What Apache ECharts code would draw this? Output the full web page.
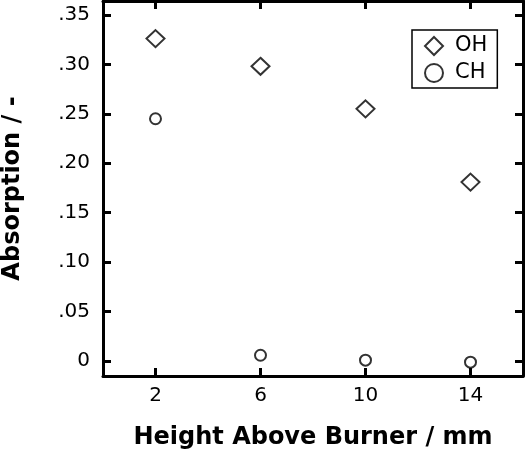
<!DOCTYPE html>
<html><head><meta charset="utf-8">
<script src="https://cdn.jsdelivr.net/npm/echarts@6/dist/echarts.min.js"></script>
<style>html,body{margin:0;padding:0;background:#fff}#c{width:526px;height:457px}</style>
</head><body><div id="c"></div>
<script>
const heights = [2, 6, 10, 14];
const ohValues = [0.326, 0.298, 0.255, 0.181];
const chValues = [0.245, 0.006, 0.001, -0.001];
const xTicks = [2, 6, 10, 14];
const yTicks = [0, 0.05, 0.10, 0.15, 0.20, 0.25, 0.30, 0.35];
const seriesNames = ['OH', 'CH'];
const xTitle = 'Height Above Burner / mm';
const yTitle = 'Absorption / -';

const FONT = 'DejaVu Sans';
const ink = '#000';
const chart = echarts.init(document.getElementById('c'), null, {renderer: 'canvas'});

function fmtY(v) {
  if (Math.abs(v) < 1e-9) return '0';
  return v.toFixed(2).replace(/^0/, '');
}
function line() { return {show: true, onZero: false, lineStyle: {color: ink, width: 3}}; }
function tick(vals) { return {show: true, inside: true, length: 8, customValues: vals, lineStyle: {color: '#000', width: 3}}; }

chart.setOption({
  animation: false,
  backgroundColor: '#fff',
  grid: {left: 103, right: 3, top: 1, bottom: 81, outerBoundsMode: 'none'},
  xAxis: [
    {type: 'value', position: 'bottom', min: 0, max: 16,
     name: xTitle, nameLocation: 'middle', nameGap: 50,
     nameTextStyle: {fontFamily: FONT, fontSize: 24, fontWeight: 'bold', color: ink},
     axisLine: line(), axisTick: tick(xTicks),
     axisLabel: {show: true, customValues: xTicks, margin: 10, fontFamily: FONT, fontSize: 20, color: ink},
     splitLine: {show: false}},
    {type: 'value', position: 'top', min: 0, max: 16,
     axisLine: line(), axisTick: tick(xTicks),
     axisLabel: {show: false}, splitLine: {show: false}}
  ],
  yAxis: [
    {type: 'value', position: 'left', min: -0.015, max: 0.364,
     name: yTitle, nameLocation: 'middle', nameGap: 78,
     nameTextStyle: {fontFamily: FONT, fontSize: 24, fontWeight: 'bold', color: ink},
     axisLine: line(), axisTick: tick(yTicks),
     axisLabel: {show: true, customValues: yTicks, margin: 13, fontFamily: FONT, fontSize: 20, color: ink, formatter: fmtY},
     splitLine: {show: false}},
    {type: 'value', position: 'right', min: -0.015, max: 0.364,
     axisLine: line(), axisTick: tick(yTicks),
     axisLabel: {show: false}, splitLine: {show: false}}
  ],
  legend: {
    left: 412, top: 30, orient: 'vertical',
    borderColor: ink, borderWidth: 1.5,
    padding: [5, 10, 4, 12], itemGap: 5,
    itemWidth: 18, itemHeight: 18,
    textStyle: {fontFamily: FONT, fontSize: 21, color: ink, lineHeight: 22, padding: [0, 0, 0, 7]},
    data: [{name: seriesNames[0], icon: 'diamond'}, {name: seriesNames[1], icon: 'circle', itemStyle: {borderWidth: 2}}],
    selectedMode: false
  },
  series: [
    {name: seriesNames[0], type: 'scatter', symbol: 'diamond', symbolSize: [18, 17],
     itemStyle: {color: '#fff', borderColor: ink, borderWidth: 2},
     data: heights.map((h, i) => [h, ohValues[i]]), silent: true},
    {name: seriesNames[1], type: 'scatter', symbol: 'circle', symbolSize: 11,
     itemStyle: {color: '#fff', borderColor: ink, borderWidth: 2},
     data: heights.map((h, i) => [h, chValues[i]]), silent: true}
  ]
});
</script></body></html>
